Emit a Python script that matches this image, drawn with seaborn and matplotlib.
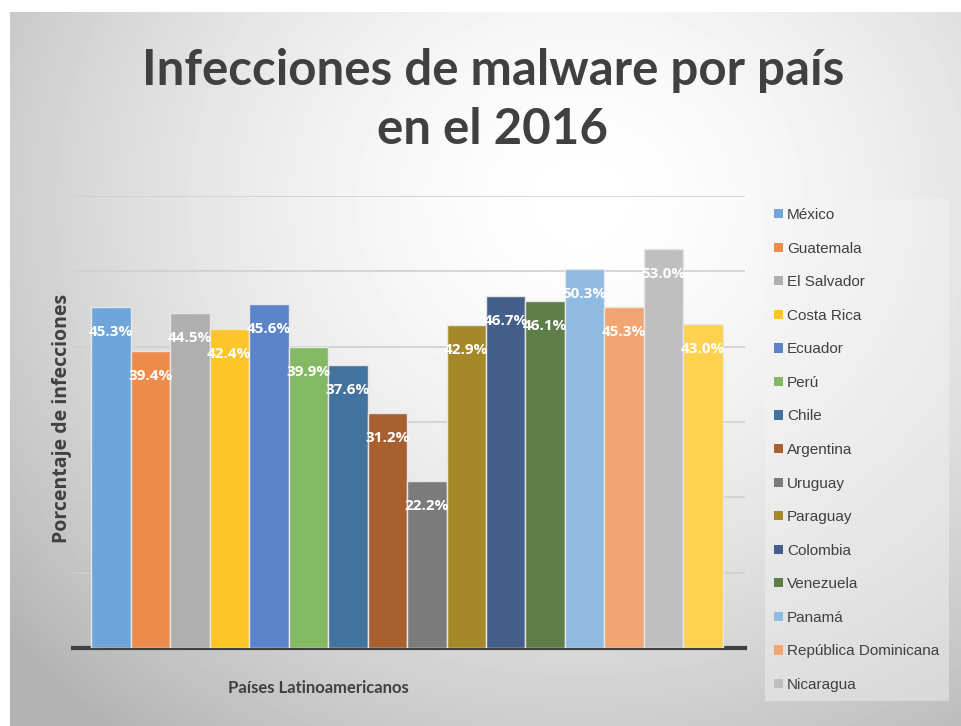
import numpy as np
import pandas as pd
import matplotlib
matplotlib.use("Agg")
import matplotlib.pyplot as plt
from matplotlib.patches import Patch
import seaborn as sns

paises = ["México", "Guatemala", "El Salvador", "Costa Rica", "Ecuador", "Perú",
          "Chile", "Argentina", "Uruguay", "Paraguay", "Colombia", "Venezuela",
          "Panamá", "República Dominicana", "Nicaragua", "Honduras"]
valores = [45.3, 39.4, 44.5, 42.4, 45.6, 39.9, 37.6, 31.2, 22.2, 42.9,
           46.7, 46.1, 50.3, 45.3, 53.0, 43.0]
colores = ["#6fa5d8", "#ed8b4c", "#afafaf", "#fec527", "#5c84cb", "#83b963",
           "#42739f", "#a96030", "#7b7b7b", "#a58828", "#455f8b", "#5e7e48",
           "#8fbae2", "#f2a573", "#bfbfbf", "#fed24e"]
# the legend in the original is cut off after the 15th entry
n_legend = 15

df = pd.DataFrame({"pais": paises, "valor": valores})

sns.set_theme(style="white")
plt.rcParams['font.family'] = ['Liberation Sans', 'DejaVu Sans']

W, H = 961, 726
fig = plt.figure(figsize=(W / 100, H / 100), dpi=100)
fig.patch.set_facecolor("white")

# radial gray background like the slide
bg = fig.add_axes([10 / W, 0, (W - 10) / W, (H - 12) / H], zorder=-10)
yy, xx = np.mgrid[0:H - 12, 0:W - 10]
r = np.hypot((xx - 570) / 620.0, (yy - 190) / 560.0)
shade = 1.0 - 0.22 * np.clip(r, 0, 1.2) ** 1.6
bg.imshow(shade, cmap="gray", vmin=0, vmax=1, aspect="auto", interpolation="bilinear")
bg.axis("off")

ax = fig.add_axes([73 / W, (H - 648) / H, 672 / W, 452 / H])
ax.set_facecolor("none")
sns.barplot(data=df, x="pais", y="valor", hue="pais", order=paises, hue_order=paises,
            palette=colores, saturation=1, width=1.0, legend=False, ax=ax,
            edgecolor="#e6e6e6", linewidth=1.0, zorder=3)

ax.set_ylim(0, 60)
ax.set_xlim(-0.96, 16.06)
ax.set_yticks(np.arange(0, 61, 10))
ax.yaxis.grid(True, color="#cfcfcf", linewidth=1.2, zorder=0)
ax.set_axisbelow(True)
ax.set_xticks([])
ax.set_yticklabels([])
ax.tick_params(left=False, bottom=False)
for s in ["top", "right", "left"]:
    ax.spines[s].set_visible(False)
ax.spines["bottom"].set_color("#404040")
ax.spines["bottom"].set_linewidth(3)
ax.set_xlabel("")
ax.set_ylabel("")

for cont in ax.containers:
    lab = ["%.1f%%" % b.get_height() for b in cont]
    ax.bar_label(cont, labels=lab, label_type="edge", padding=-23,
                 color="white", fontsize=11, fontweight="bold",
                 family=["Open Sans", "DejaVu Sans"], zorder=5)

fig.text(0.5 * (138 + 848) / W, 1 - 100 / H,
         "Infecciones de malware por país\nen el 2016",
         ha="center", va="center", fontsize=35.5, fontweight="bold",
         color="#404040", family=["Lato", "DejaVu Sans"], linespacing=1.4)

fig.text(62 / W, 1 - 418 / H, "Porcentaje de infecciones", rotation=90,
         ha="center", va="center", fontsize=14, fontweight="bold",
         color="#404040", family=["Open Sans", "DejaVu Sans"])
fig.text(318 / W, 1 - 688 / H, "Países Latinoamericanos",
         ha="center", va="center", fontsize=12, fontweight="bold",
         color="#404040", family=["Lato", "DejaVu Sans"])

handles = [Patch(facecolor=c, edgecolor="none") for c in colores[:n_legend]]
leg = fig.legend(handles, paises[:n_legend], loc="upper left",
                 bbox_to_anchor=(765 / W, 1 - 199 / H), frameon=True,
                 fontsize=11, handlelength=0.55, handleheight=0.55,
                 handletextpad=0.3, labelspacing=1.28, borderpad=0.6,
                 borderaxespad=0)
leg.get_frame().set_facecolor("#f4f4f4")
leg.get_frame().set_alpha(0.45)
leg.get_frame().set_edgecolor("none")
leg.get_frame().set_boxstyle("square", pad=0)
for t in leg.get_texts():
    t.set_color("#404040")

fig.savefig("out.png", dpi=100)
